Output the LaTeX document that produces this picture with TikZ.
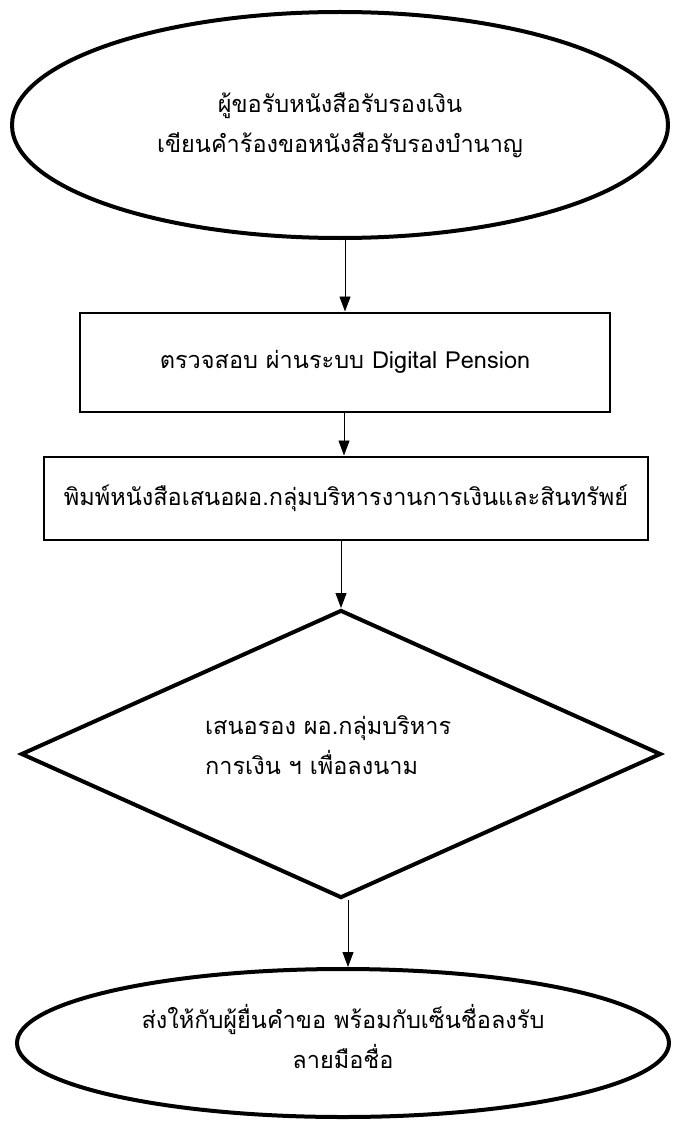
\documentclass[tikz,border=0pt]{standalone}
\usepackage{fontspec}
\setmainfont[Script=Thai]{Loma}
\usetikzlibrary{shapes.geometric,arrows.meta}
\begin{document}
\begin{tikzpicture}[x=1pt,y=-1pt,
  every node/.style={font=\fontsize{23.5}{40}\selectfont, inner sep=0pt},
  oval/.style={ellipse, draw, line width=4pt, align=center},
  procbox/.style={rectangle, draw, line width=2pt, align=center},
  decision/.style={diamond, draw, line width=4pt},
  flow/.style={-{Triangle[width=11pt,length=15pt]}, line width=0.9pt}]
\useasboundingbox (0,0) rectangle (672,1126);
\node[oval, minimum width=656pt, minimum height=226pt] (start) at (340,125)
  {ผู้ขอรับหนังสือรับรองเงิน\\เขียนคำร้องขอหนังสือรับรองบำนาญ};
\node[procbox, minimum width=530pt, minimum height=99pt] (check) at (345,362)
  {ตรวจสอบ ผ่านระบบ Digital Pension};
\node[procbox, minimum width=604pt, minimum height=83pt] (print) at (346,498)
  {พิมพ์หนังสือเสนอผอ.กลุ่มบริหารงานการเงินและสินทรัพย์};
\node[decision, minimum width=640pt, minimum height=288pt] (dec) at (341,754) {};
\node[anchor=west, align=left] (dectext) at (205,745)
  {เสนอรอง ผอ.กลุ่มบริหาร\\การเงิน ฯ เพื่อลงนาม};
\node[oval, minimum width=652pt, minimum height=148pt] (end) at (343,1043) {};
\node[align=center] (endtext) at (343,1036)
  {ส่งให้กับผู้ยื่นคำขอ พร้อมกับเซ็นชื่อลงรับ\\ลายมือชื่อ};
\draw[flow] (start.south -| 345,0) -- (check.north -| 345,0);
\draw[flow] (check.south -| 344,0) -- (print.north -| 344,0);
\draw[flow] (print.south -| 341,0) -- (dec.north);
\draw[flow] (dec.south -| 348,0) -- (end.north -| 348,0);
\end{tikzpicture}
\end{document}
